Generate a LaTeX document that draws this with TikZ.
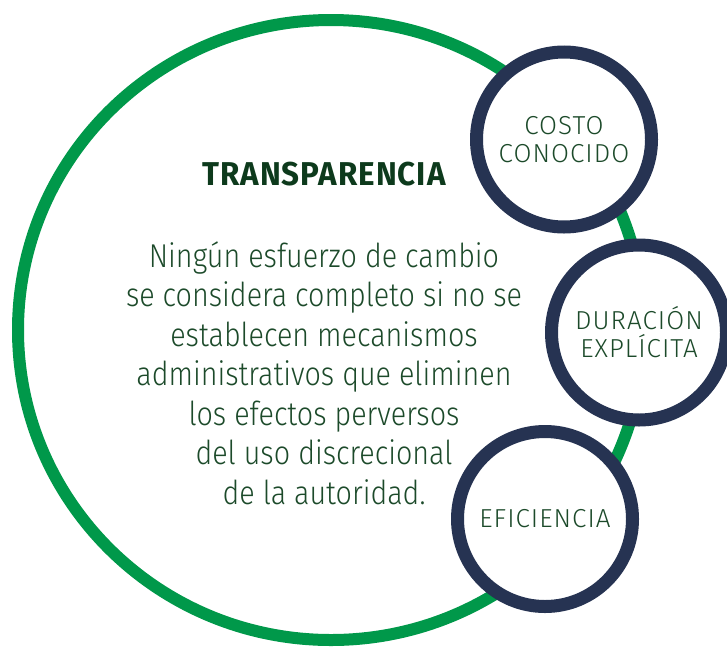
\documentclass[tikz,border=0pt]{standalone}
\usepackage{fontspec}
\newfontfamily\bodyfont{Fira Sans Light}[FakeStretch=0.87]
\newfontfamily\titlefont{Fira Sans Bold}[FakeStretch=0.95,LetterSpace=3]
\newfontfamily\bubblefont{Fira Sans Light}[LetterSpace=4]
\definecolor{ringgreen}{HTML}{00984A}
\definecolor{bubblenavy}{HTML}{263352}
\definecolor{textgreen}{HTML}{1C4A2A}
\definecolor{titlegreen}{HTML}{0D3A1C}

\begin{document}
\begin{tikzpicture}[x=1pt,y=-1pt,
	bubble/.style={circle,draw=bubblenavy,line width=13pt,fill=white,minimum size=175pt,inner sep=0pt,
		align=center,text=textgreen,font=\bubblefont\fontsize{26}{28}\selectfont}]
	\useasboundingbox (0,0) rectangle (727,648);
	% big ring
	\draw[ringgreen,line width=12pt] (331,330) ellipse [x radius=313pt,y radius=310pt];
	\node[text=titlegreen,font=\titlefont\fontsize{33}{38}\selectfont] (title) at (324,174) {TRANSPARENCIA};
	\node[anchor=north,inner sep=0pt,align=center,text=textgreen,font=\bodyfont\fontsize{33}{39.5}\selectfont] (body) at (324,241)
		{Ningún esfuerzo de cambio\\se considera completo si no se\\establecen mecanismos\\administrativos que eliminen\\los efectos perversos\\del uso discrecional\\de la autoridad.};
	% small circles
	\node[bubble] (costo) at (564,139.5) {COSTO\\CONOCIDO};
	\node[bubble] (duracion) at (639,332.5) {DURACIÓN\\EXPLÍCITA};
	\node[bubble] (eficiencia) at (545,519) {EFICIENCIA};
\end{tikzpicture}
\end{document}
